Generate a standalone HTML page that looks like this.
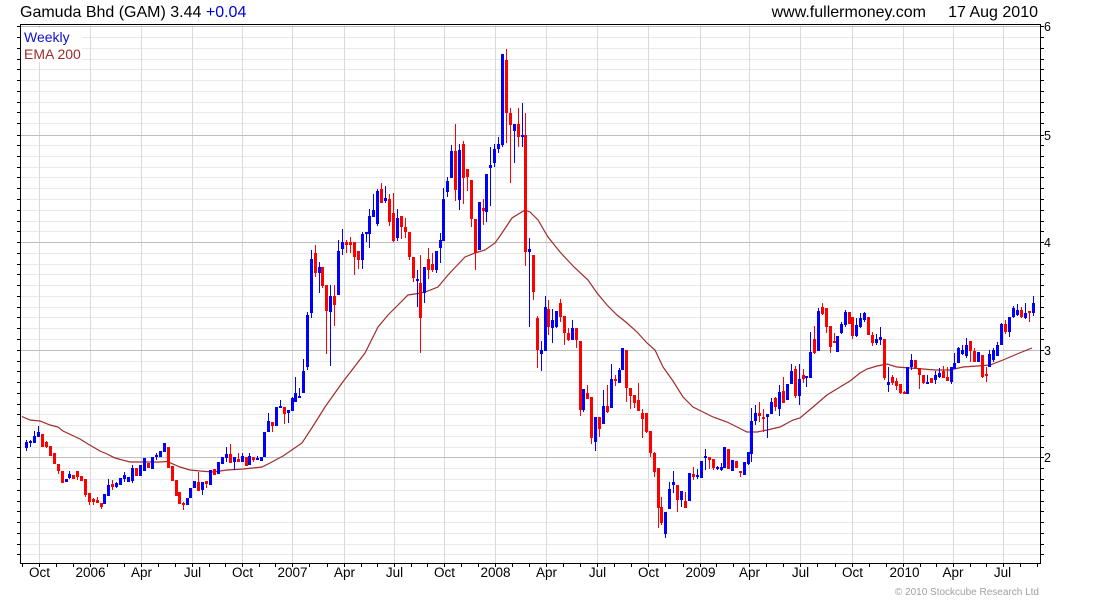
<!DOCTYPE html>
<html><head><meta charset="utf-8"><style>
html,body{margin:0;padding:0;background:#fff;}
svg{display:block;}
text{font-family:"Liberation Sans",Arial,sans-serif;}
</style></head><body>
<svg width="1100" height="600" viewBox="0 0 1100 600" xmlns="http://www.w3.org/2000/svg">
<rect width="1100" height="600" fill="#fff"/>
<g shape-rendering="crispEdges" fill="none">
<path stroke="#e9e9e9" stroke-width="1" d="M21 554.5H1040M21 544.5H1040M21 533.5H1040M21 522.5H1040M21 511.5H1040M21 501.5H1040M21 490.5H1040M21 479.5H1040M21 468.5H1040M21 447.5H1040M21 436.5H1040M21 425.5H1040M21 414.5H1040M21 404.5H1040M21 393.5H1040M21 382.5H1040M21 371.5H1040M21 361.5H1040M21 339.5H1040M21 328.5H1040M21 317.5H1040M21 307.5H1040M21 296.5H1040M21 285.5H1040M21 274.5H1040M21 264.5H1040M21 253.5H1040M21 231.5H1040M21 221.5H1040M21 210.5H1040M21 199.5H1040M21 188.5H1040M21 177.5H1040M21 167.5H1040M21 156.5H1040M21 145.5H1040M21 123.5H1040M21 112.5H1040M21 102.5H1040M21 91.5H1040M21 80.5H1040M21 69.5H1040M21 59.5H1040M21 48.5H1040M21 37.5H1040"/>
<path stroke="#dadada" stroke-width="1" d="M39.5 25V563M90.5 25V563M141.5 25V563M192.5 25V563M242.5 25V563M292.5 25V563M344.5 25V563M394.5 25V563M444.5 25V563M495.5 25V563M546.5 25V563M597.5 25V563M648.5 25V563M700.5 25V563M749.5 25V563M800.5 25V563M852.5 25V563M903.5 25V563M953.5 25V563M1003.5 25V563"/>
<path stroke="#bebebe" stroke-width="1" d="M21 457.5H1040M21 350.5H1040M21 242.5H1040M21 135.5H1040M21 26.5H1040"/>
<rect x="21" y="28" width="61" height="34" fill="#fff"/>
</g>
<polyline fill="none" stroke="#a02c2c" stroke-width="1.2" points="22,416.5 30,420 40,421 50,425 58,427 63,431 80,439 88,444 100,451 107,454 115,458 130,462 160,462 167,461.5 180,467 190,470 200,471 213,472 227,470 243,469 262,467 270,463 283,456 302,443 315,423 325,407 342,383 352,370 365,353 378,327 388,315 398,305 408,295 418,293.5 425,292 438,287 448,275 465,257 475,253 485,250 495,243 502,233 512,218 525,210 530,212 538,220 548,237 560,252 574,267 588,280 597,293 607,305 617,315 627,323 637,332 647,343 655,350 663,367 673,381 683,397 693,407 703,412 713,417 727,422 737,427 747,432 757,432 767,430 780,427 793,420 800,418 813,407 827,395 840,387 850,381 860,373 867,369 877,366 887,364 897,367 910,368 923,369 935,370 950,370 963,367 977,366 990,365 1003,360 1017,354 1032,348"/>
<g shape-rendering="crispEdges" fill="none">
<path stroke="#0000ff" stroke-width="1" d="M26.5 440V451M30.5 440V447M34.5 431V443M38.5 426V437M69.5 471V479M108.5 479V496M116.5 482V488M124.5 472V482M132.5 465V483M156.5 453V460M202.5 482V495M226.5 447V462M234.5 457V470M242.5 453V462M249.5 453V465M257.5 456V460M268.5 413V432M280.5 400V408M288.5 410V423M292.5 397V411M295.5 377V402M299.5 388V398M303.5 359V393M307.5 312V370M311.5 250V318M319.5 262V293M330.5 285V366M338.5 240V295M342.5 229V255M362.5 232V269M366.5 232V242M369.5 209V248M373.5 194V217M377.5 189V226M385.5 186V203M397.5 209V241M417.5 270V307M424.5 267V303M436.5 251V273M440.5 233V263M443.5 188V241M447.5 177V197M451.5 145V178M459.5 144V210M486.5 174V222M490.5 147V206M494.5 144V167M498.5 137V153M502.5 54V147M514.5 124V163M522.5 103V147M529.5 238V327M541.5 341V371M545.5 296V351M552.5 309V343M556.5 311V328M572.5 320V340M583.5 389V412M595.5 417V451M603.5 390V424M611.5 364V408M619.5 368V383M665.5 512V538M669.5 482V509M673.5 471V493M681.5 491V507M697.5 469V479M705.5 449V470M717.5 466V470M721.5 463V471M748.5 452V465M751.5 408V462M755.5 405V425M767.5 414V438M771.5 398V414M779.5 385V416M791.5 364V384M799.5 364V405M806.5 376V387M810.5 332V378M818.5 308V351M841.5 322V334M845.5 310V327M856.5 318V337M860.5 313V328M864.5 312V322M876.5 334V345M880.5 327V345M888.5 367V392M911.5 354V370M927.5 375V384M935.5 371V384M939.5 368V378M951.5 367V384M954.5 353V369M958.5 347V363M962.5 345V355M966.5 338V358M989.5 350V367M993.5 348V362M997.5 342V356M1001.5 323V345M1009.5 317V337M1013.5 306V318M1017.5 304V316M1025.5 303V319M1033.5 296V316"/>
<path stroke="#0000ff" stroke-width="3" d="M26.5 442V448M30.5 441V443M34.5 436V443M38.5 432V437M66.5 479V482M69.5 474V478M104.5 494V504M108.5 485V496M116.5 483V487M120.5 478V485M124.5 475V479M128.5 477V482M132.5 468V481M140.5 465V476M144.5 458V471M152.5 457V469M156.5 455V457M160.5 451V457M164.5 443V452M187.5 498V505M190.5 488V498M194.5 481V488M202.5 482V490M210.5 470V485M218.5 462V474M222.5 457V464M226.5 454V458M234.5 457V462M242.5 456V462M249.5 456V465M257.5 458V460M261.5 457V461M264.5 432V457M268.5 421V432M276.5 407V426M280.5 406V408M288.5 410V413M292.5 398V411M295.5 393V402M299.5 396V398M303.5 371V393M307.5 315V367M311.5 259V313M319.5 267V273M330.5 296V312M338.5 251V295M342.5 242V249M362.5 234V260M366.5 232V234M369.5 216V234M373.5 210V217M377.5 191V224M385.5 198V201M397.5 218V238M417.5 279V281M424.5 267V293M436.5 251V270M440.5 240V248M443.5 199V241M447.5 181V192M451.5 151V178M459.5 150V200M479.5 202V250M486.5 174V212M490.5 165V168M494.5 149V163M498.5 144V149M502.5 54V145M514.5 124V131M522.5 135V137M529.5 249V252M541.5 350V354M545.5 307V351M552.5 320V328M556.5 311V327M572.5 328V340M583.5 389V410M595.5 417V442M603.5 406V424M611.5 379V408M619.5 370V383M622.5 348V370M665.5 512V534M669.5 489V509M673.5 482V485M681.5 491V500M689.5 473V501M697.5 475V477M701.5 461V478M705.5 456V458M717.5 467V469M721.5 467V470M724.5 447V468M732.5 460V471M744.5 462V475M748.5 452V464M751.5 421V454M755.5 413V421M767.5 414V417M771.5 402V414M779.5 392V409M787.5 384V400M791.5 371V384M799.5 379V396M806.5 376V378M810.5 352V378M818.5 311V351M837.5 336V352M841.5 324V333M845.5 312V325M856.5 325V336M860.5 318V327M864.5 313V320M876.5 339V343M880.5 337V340M888.5 382V385M907.5 367V394M911.5 360V367M927.5 382V384M935.5 375V380M939.5 373V377M951.5 367V382M954.5 363V369M958.5 348V363M962.5 350V354M966.5 345V356M978.5 352V362M989.5 354V367M993.5 350V360M997.5 345V356M1001.5 324V345M1009.5 317V332M1013.5 308V317M1017.5 310V315M1025.5 313V318M1033.5 303V313"/>
<path stroke="#ff0000" stroke-width="1" d="M46.5 441V448M58.5 464V474M77.5 471V480M85.5 479V497M89.5 493V505M93.5 498V505M97.5 497V503M101.5 503V509M112.5 480V490M183.5 502V510M198.5 472V491M206.5 481V488M230.5 444V463M238.5 453V462M253.5 457V462M272.5 422V432M284.5 407V424M315.5 245V277M322.5 267V288M326.5 285V354M334.5 285V326M346.5 240V253M350.5 237V253M354.5 242V275M358.5 251V269M381.5 183V203M389.5 194V226M393.5 193V242M401.5 216V239M405.5 218V238M409.5 232V260M413.5 257V282M420.5 255V353M428.5 248V279M432.5 253V272M455.5 124V201M463.5 141V204M467.5 169V191M471.5 180V227M475.5 219V270M483.5 199V225M506.5 49V143M510.5 108V183M518.5 108V147M525.5 113V266M533.5 255V300M537.5 316V368M548.5 300V335M560.5 299V322M564.5 316V345M568.5 328V341M576.5 328V348M580.5 341V416M587.5 385V399M591.5 397V444M599.5 417V437M607.5 385V413M615.5 375V386M626.5 350V402M630.5 388V409M634.5 395V408M638.5 383V411M642.5 409V438M646.5 413V433M650.5 431V457M654.5 452V477M658.5 468V528M661.5 497V525M677.5 485V512M685.5 492V508M693.5 467V480M709.5 457V469M713.5 459V470M740.5 471V477M759.5 402V422M763.5 409V432M775.5 397V411M783.5 377V403M795.5 366V398M803.5 369V383M814.5 326V354M822.5 303V315M826.5 308V333M830.5 326V353M834.5 333V343M852.5 317V339M872.5 332V346M884.5 339V380M892.5 375V385M896.5 378V390M900.5 384V394M904.5 391V394M919.5 368V389M923.5 375V384M943.5 366V378M947.5 367V381M970.5 341V362M974.5 348V362M982.5 355V378M986.5 367V382M1005.5 320V334M1021.5 307V318M1029.5 311V322"/>
<path stroke="#ff0000" stroke-width="3" d="M42.5 434V447M46.5 442V447M50.5 446V456M54.5 453V464M58.5 464V471M62.5 471V483M73.5 475V479M77.5 471V477M81.5 476V481M85.5 479V495M89.5 493V502M93.5 499V502M97.5 500V503M101.5 503V507M112.5 484V487M136.5 468V476M148.5 463V468M168.5 447V468M172.5 466V481M176.5 480V496M179.5 492V504M183.5 503V505M198.5 482V491M206.5 481V484M214.5 469V475M230.5 454V463M238.5 459V462M246.5 457V466M253.5 457V460M272.5 422V426M284.5 407V414M315.5 253V273M322.5 267V286M326.5 285V311M334.5 296V305M346.5 242V245M350.5 242V245M354.5 242V257M358.5 251V260M381.5 189V203M389.5 199V222M393.5 213V241M401.5 216V227M405.5 227V232M409.5 232V257M413.5 257V278M420.5 283V318M428.5 259V270M432.5 264V270M455.5 151V190M463.5 144V178M467.5 169V177M471.5 180V219M475.5 219V253M483.5 208V211M506.5 60V113M510.5 113V125M518.5 124V137M525.5 135V252M533.5 255V292M537.5 318V350M548.5 309V327M560.5 303V317M564.5 316V333M568.5 333V340M576.5 328V340M580.5 341V410M587.5 393V399M591.5 397V438M599.5 417V429M607.5 406V412M615.5 379V381M626.5 350V388M630.5 388V396M634.5 395V403M638.5 400V411M642.5 413V419M646.5 413V432M650.5 431V453M654.5 453V472M658.5 468V508M661.5 507V523M677.5 485V500M685.5 501V508M693.5 474V477M709.5 457V460M713.5 459V468M728.5 449V469M736.5 461V468M740.5 471V473M759.5 413V416M763.5 417V419M775.5 398V407M783.5 391V403M795.5 369V396M803.5 375V379M814.5 339V353M822.5 307V314M826.5 308V327M830.5 326V347M834.5 341V343M849.5 312V324M852.5 317V336M868.5 317V335M872.5 335V343M884.5 339V378M892.5 377V383M896.5 381V386M900.5 384V393M904.5 392V394M915.5 360V368M919.5 368V375M923.5 375V383M931.5 378V383M943.5 371V378M947.5 377V381M970.5 341V351M974.5 351V362M982.5 355V377M986.5 374V376M1005.5 324V332M1021.5 310V317M1029.5 311V313"/>
<path stroke="#000" stroke-width="1" d="M20.5 24V564M1040.5 24V564M20 24.5H1041M20 563.5H1041"/>
<path stroke="#000" stroke-width="1" d="M17 554.5H20M17 544.5H20M17 533.5H20M17 522.5H20M17 511.5H20M17 501.5H20M17 490.5H20M17 479.5H20M17 468.5H20M17 457.5H20M17 447.5H20M17 436.5H20M17 425.5H20M17 414.5H20M17 404.5H20M17 393.5H20M17 382.5H20M17 371.5H20M17 361.5H20M17 350.5H20M17 339.5H20M17 328.5H20M17 317.5H20M17 307.5H20M17 296.5H20M17 285.5H20M17 274.5H20M17 264.5H20M17 253.5H20M17 242.5H20M17 231.5H20M17 221.5H20M17 210.5H20M17 199.5H20M17 188.5H20M17 177.5H20M17 167.5H20M17 156.5H20M17 145.5H20M17 135.5H20M17 123.5H20M17 112.5H20M17 102.5H20M17 91.5H20M17 80.5H20M17 69.5H20M17 59.5H20M17 48.5H20M17 37.5H20M17 26.5H20"/>
<path stroke="#000" stroke-width="1" d="M1041 554.5H1044M1041 544.5H1044M1041 533.5H1044M1041 522.5H1044M1041 511.5H1044M1041 501.5H1044M1041 490.5H1044M1041 479.5H1044M1041 468.5H1044M1041 457.5H1044M1041 447.5H1044M1041 436.5H1044M1041 425.5H1044M1041 414.5H1044M1041 404.5H1044M1041 393.5H1044M1041 382.5H1044M1041 371.5H1044M1041 361.5H1044M1041 350.5H1044M1041 339.5H1044M1041 328.5H1044M1041 317.5H1044M1041 307.5H1044M1041 296.5H1044M1041 285.5H1044M1041 274.5H1044M1041 264.5H1044M1041 253.5H1044M1041 242.5H1044M1041 231.5H1044M1041 221.5H1044M1041 210.5H1044M1041 199.5H1044M1041 188.5H1044M1041 177.5H1044M1041 167.5H1044M1041 156.5H1044M1041 145.5H1044M1041 135.5H1044M1041 123.5H1044M1041 112.5H1044M1041 102.5H1044M1041 91.5H1044M1041 80.5H1044M1041 69.5H1044M1041 59.5H1044M1041 48.5H1044M1041 37.5H1044M1041 26.5H1044"/>
<path stroke="#000" stroke-width="1" d="M22.5 564V567M39.5 564V567M56.5 564V567M73.5 564V567M90.5 564V567M107.5 564V567M124.5 564V567M141.5 564V567M158.5 564V567M175.5 564V567M192.5 564V567M209.5 564V567M225.5 564V567M242.5 564V567M259.5 564V567M275.5 564V567M292.5 564V567M309.5 564V567M327.5 564V567M344.5 564V567M361.5 564V567M377.5 564V567M394.5 564V567M411.5 564V567M427.5 564V567M444.5 564V567M461.5 564V567M478.5 564V567M495.5 564V567M512.5 564V567M529.5 564V567M546.5 564V567M563.5 564V567M580.5 564V567M597.5 564V567M614.5 564V567M631.5 564V567M648.5 564V567M665.5 564V567M683.5 564V567M700.5 564V567M716.5 564V567M733.5 564V567M749.5 564V567M766.5 564V567M783.5 564V567M800.5 564V567M817.5 564V567M835.5 564V567M852.5 564V567M869.5 564V567M886.5 564V567M903.5 564V567M920.5 564V567M936.5 564V567M953.5 564V567M970.5 564V567M986.5 564V567M1003.5 564V567M1020.5 564V567M1037.5 564V567"/>
</g>
<text x="20" y="17" font-size="16" fill="#000">Gamuda Bhd (GAM) 3.44 <tspan fill="#0000dd">+0.04</tspan></text>
<text x="926" y="17" font-size="16" fill="#000" text-anchor="end">www.fullermoney.com</text>
<text x="1038" y="17" font-size="16" fill="#000" text-anchor="end">17 Aug 2010</text>
<text x="24" y="42" font-size="14" fill="#1010d0">Weekly</text>
<text x="24" y="59" font-size="14" fill="#a02c2c">EMA 200</text>
<g font-size="12.5" fill="#000">
<text x="1044" y="31">6</text>
<text x="1044" y="140">5</text>
<text x="1044" y="247">4</text>
<text x="1044" y="355">3</text>
<text x="1044" y="462">2</text>
</g>
<g font-size="13.5" fill="#000" text-anchor="middle">
<text x="39.5" y="577">Oct</text>
<text x="90.5" y="577">2006</text>
<text x="141.5" y="577">Apr</text>
<text x="192.5" y="577">Jul</text>
<text x="242.5" y="577">Oct</text>
<text x="292.5" y="577">2007</text>
<text x="344.5" y="577">Apr</text>
<text x="394.5" y="577">Jul</text>
<text x="444.5" y="577">Oct</text>
<text x="495.5" y="577">2008</text>
<text x="546.5" y="577">Apr</text>
<text x="597.5" y="577">Jul</text>
<text x="648.5" y="577">Oct</text>
<text x="700.5" y="577">2009</text>
<text x="749.5" y="577">Apr</text>
<text x="800.5" y="577">Jul</text>
<text x="852.5" y="577">Oct</text>
<text x="904.5" y="577">2010</text>
<text x="953" y="577">Apr</text>
<text x="1002.5" y="577">Jul</text>
</g>
<text x="1039" y="595" font-size="10" fill="#a0a0a0" text-anchor="end">© 2010 Stockcube Research Ltd</text>
</svg>
</body></html>
